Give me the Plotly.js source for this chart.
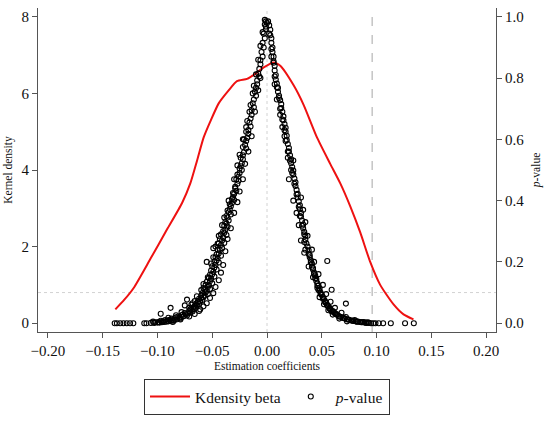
<!DOCTYPE html>
<html>
<head>
<meta charset="utf-8">
<script src="https://cdn.plot.ly/plotly-3.0.1.min.js"></script>
<style>html,body{margin:0;padding:0;background:#fff;}#chart{width:550px;height:423px;}</style>
</head>
<body>
<div id="chart"></div>
<script>
// Kernel density of beta estimates (left axis)
const kdX = [-0.1384,-0.130,-0.1217,-0.1064,-0.0912,-0.0775,-0.070,-0.0638,-0.0578,-0.0517,-0.0441,-0.035,-0.0274,-0.0182,-0.0107,-0.003,0.006,0.0121,0.0243,0.0334,0.0456,0.0577,0.0669,0.076,0.0851,0.0942,0.1033,0.1155,0.1246,0.1337];
const kdY = [0.36,0.62,0.92,1.68,2.45,3.14,3.65,4.25,4.85,5.27,5.74,6.08,6.32,6.38,6.51,6.68,6.81,6.72,6.21,5.70,4.85,4.16,3.65,3.05,2.37,1.60,1.00,0.49,0.23,0.10];

// p-values, left branch (negative coefficients)
const leftX = [-0.001,-0.002,-0.001,-0.003,-0.002,-0.004,-0.003,-0.005,-0.004,-0.006,-0.006,-0.007,-0.008,-0.007,-0.009,-0.009,-0.010,-0.011,-0.010,-0.012,-0.013,-0.012,-0.014,-0.014,-0.015,-0.016,-0.015,-0.017,-0.017,-0.018,-0.019,-0.020,-0.019,-0.021,-0.022,-0.022,-0.023,-0.024,-0.023,-0.025,-0.026,-0.026,-0.027,-0.029,-0.028,-0.030,-0.031,-0.030,-0.032,-0.033,-0.034,-0.035,-0.033,-0.036,-0.035,-0.037,-0.036,-0.038,-0.039,-0.037,-0.040,-0.041,-0.039,-0.042,-0.041,-0.043,-0.044,-0.042,-0.045,-0.046,-0.044,-0.047,-0.048,-0.046,-0.049,-0.050,-0.048,-0.051,-0.052,-0.050,-0.053,-0.054,-0.052,-0.055,-0.056,-0.054,-0.057,-0.058,-0.060,-0.059,-0.061,-0.063,-0.062,-0.064,-0.066,-0.065,-0.067,-0.069,-0.068,-0.070,-0.072,-0.074,-0.073,-0.076,-0.078,-0.080,-0.079,-0.082,-0.084,-0.086,-0.085,-0.088,-0.090,-0.092,-0.094,-0.096,-0.098,-0.100,-0.103,-0.106,-0.110,-0.112,-0.122,-0.125,-0.128,-0.131,-0.134,-0.137,-0.139,
  -0.004,-0.006,-0.008,-0.010,-0.012,-0.013,-0.015,-0.016,-0.018,-0.019,-0.021,-0.022,-0.024,-0.025,-0.027,-0.028,-0.029,-0.031,-0.032,-0.034,-0.036,-0.037,-0.038,-0.039,-0.040,-0.042,-0.043,-0.044,-0.045,-0.046,-0.047,-0.048,-0.050,-0.051,-0.052,-0.053,-0.055,-0.056,-0.057,-0.059,-0.060,-0.062,-0.063,-0.065,-0.067,-0.070,-0.071,-0.075,-0.077,-0.081,-0.083,-0.087,-0.089,-0.091,-0.095,-0.099,-0.102,
  -0.002,0.000,-0.001,-0.006,-0.008,-0.011,-0.019,-0.014,-0.022,-0.017,-0.025,-0.020,-0.027,-0.022,-0.030,-0.025,
  -0.027,-0.035,-0.030,-0.039,-0.033,-0.041,-0.036,-0.044,-0.038,-0.047,-0.040,-0.049,-0.042,-0.051,-0.044,-0.054,-0.047,-0.058,-0.049,-0.060,-0.052,-0.064,-0.055,-0.066,-0.058,-0.069,-0.062,-0.071,-0.066,-0.078,-0.071,-0.083,-0.079,-0.090,-0.086,-0.093,-0.097,-0.104,
  -0.049,-0.055,-0.088,-0.097,-0.073,-0.061,-0.068,-0.075,-0.058,-0.045];
const leftP = [0.985,0.975,0.960,0.945,0.930,0.915,0.900,0.885,0.870,0.858,0.845,0.830,0.815,0.805,0.792,0.780,0.768,0.755,0.742,0.730,0.718,0.705,0.695,0.680,0.668,0.655,0.642,0.630,0.618,0.605,0.595,0.582,0.570,0.558,0.548,0.535,0.522,0.512,0.500,0.490,0.478,0.465,0.455,0.445,0.432,0.422,0.412,0.402,0.392,0.382,0.372,0.362,0.355,0.345,0.335,0.325,0.315,0.305,0.295,0.288,0.280,0.270,0.262,0.255,0.245,0.238,0.228,0.220,0.212,0.205,0.198,0.190,0.182,0.175,0.168,0.160,0.152,0.145,0.138,0.130,0.124,0.118,0.112,0.106,0.100,0.095,0.090,0.085,0.082,0.076,0.071,0.068,0.063,0.058,0.055,0.050,0.046,0.043,0.038,0.035,0.032,0.029,0.025,0.023,0.020,0.018,0.015,0.013,0.012,0.010,0.008,0.007,0.006,0.005,0.004,0.003,0.002,0.002,0.001,0.001,0.000,0.000,0.000,0.000,0.000,0.000,0.000,0.000,0.000,
  0.950,0.905,0.860,0.812,0.775,0.750,0.712,0.690,0.660,0.625,0.600,0.575,0.540,0.505,0.485,0.470,0.440,0.425,0.405,0.388,0.368,0.350,0.330,0.318,0.300,0.290,0.275,0.260,0.240,0.225,0.215,0.200,0.186,0.172,0.158,0.148,0.135,0.125,0.110,0.098,0.090,0.080,0.072,0.062,0.052,0.045,0.040,0.033,0.028,0.022,0.019,0.015,0.011,0.009,0.006,0.004,0.003,
  0.990,0.980,0.968,0.800,0.760,0.690,0.640,0.610,0.600,0.560,0.550,0.520,0.515,0.470,0.470,0.430,
  0.395,0.400,0.360,0.345,0.310,0.320,0.275,0.285,0.235,0.250,0.190,0.215,0.165,0.195,0.140,0.150,0.118,0.128,0.098,0.108,0.082,0.088,0.065,0.072,0.055,0.060,0.040,0.050,0.030,0.036,0.022,0.026,0.012,0.018,0.004,0.010,0.008,0.005,
  0.245,0.200,0.050,0.031,0.077,0.045,0.065,0.058,0.115,0.260];

// p-values, right branch (positive coefficients)
const rightX = [0.001,0.002,0.003,0.002,0.004,0.004,0.005,0.005,0.006,0.006,0.007,0.007,0.008,0.008,0.009,0.010,0.010,0.011,0.012,0.013,0.013,0.014,0.015,0.015,0.016,0.017,0.017,0.018,0.018,0.019,0.020,0.020,0.021,0.022,0.022,0.023,0.024,0.024,0.025,0.026,0.026,0.027,0.028,0.028,0.029,0.030,0.030,0.031,0.031,0.032,0.033,0.033,0.034,0.035,0.035,0.036,0.037,0.038,0.038,0.039,0.040,0.041,0.041,0.042,0.043,0.044,0.044,0.045,0.046,0.047,0.048,0.048,0.049,0.050,0.051,0.052,0.053,0.054,0.055,0.056,0.057,0.058,0.060,0.061,0.062,0.064,0.065,0.067,0.069,0.071,0.073,0.075,0.077,0.079,0.081,0.083,0.085,0.087,0.089,0.091,0.093,0.095,0.097,0.099,0.102,0.106,0.113,0.126,0.134,
  0.003,0.004,0.006,0.007,0.009,0.011,0.012,0.014,0.016,0.017,0.019,0.021,0.023,0.025,0.027,0.029,0.030,0.032,0.034,0.034,0.035,0.039,0.040,0.042,0.043,0.045,0.046,0.047,0.049,0.051,0.053,0.055,0.057,0.059,0.063,0.066,0.070,0.074,0.078,0.082,0.086,0.090,
  0.004,0.007,0.009,0.012,0.014,0.016,0.019,0.022,0.020,
  0.024,0.031,0.027,0.033,0.029,0.035,0.031,0.037,0.034,0.041,0.038,0.043,0.042,0.047,0.046,0.051,0.048,0.054,0.052,0.058,0.056,0.062,0.060,0.068,0.066,0.072,0.073,0.080,0.088,0.092,
  0.024,0.055,0.059,0.072];
const rightP = [0.985,0.972,0.958,0.945,0.930,0.915,0.900,0.885,0.870,0.855,0.840,0.825,0.810,0.795,0.782,0.768,0.755,0.742,0.728,0.715,0.702,0.690,0.675,0.662,0.650,0.638,0.625,0.612,0.598,0.585,0.572,0.560,0.548,0.535,0.522,0.510,0.498,0.485,0.472,0.460,0.448,0.435,0.422,0.410,0.398,0.385,0.372,0.360,0.348,0.335,0.322,0.310,0.298,0.285,0.272,0.260,0.250,0.238,0.226,0.215,0.205,0.195,0.184,0.175,0.165,0.156,0.147,0.138,0.130,0.122,0.114,0.106,0.099,0.092,0.085,0.078,0.072,0.066,0.060,0.055,0.050,0.045,0.040,0.036,0.032,0.028,0.024,0.021,0.018,0.015,0.013,0.011,0.009,0.007,0.006,0.005,0.004,0.003,0.002,0.001,0.001,0.000,0.000,0.000,0.000,0.000,0.000,0.000,0.000,
  0.940,0.895,0.850,0.805,0.770,0.735,0.700,0.665,0.630,0.595,0.560,0.530,0.490,0.455,0.420,0.380,0.350,0.318,0.290,0.265,0.240,0.222,0.198,0.180,0.160,0.145,0.122,0.108,0.095,0.080,0.068,0.057,0.047,0.038,0.030,0.022,0.017,0.012,0.008,0.005,0.003,0.002,
  0.870,0.780,0.730,0.680,0.640,0.610,0.540,0.500,0.470,
  0.400,0.410,0.360,0.370,0.320,0.330,0.270,0.285,0.230,0.240,0.185,0.200,0.150,0.160,0.115,0.125,0.085,0.095,0.062,0.070,0.042,0.050,0.028,0.034,0.015,0.020,0.006,0.010,0.004,0.003,
  0.531,0.203,0.109,0.064];

const xTicks = [-0.20,-0.15,-0.10,-0.05,0.00,0.05,0.10,0.15,0.20];
const pThreshold = 0.1;
const betaLine = 0.096;

const serif = "'Times New Roman', 'Liberation Serif', serif";

const traces = [
  {x: kdX, y: kdY, type: 'scatter', mode: 'lines', name: 'Kdensity beta',
   line: {color: '#ee1111', width: 2, shape: 'spline', smoothing: 0.6}, yaxis: 'y'},
  {x: leftX.concat(rightX), y: leftP.concat(rightP), type: 'scatter', mode: 'markers', name: '<i>p</i>-value',
   marker: {symbol: 'circle-open', size: 5, color: '#000', line: {width: 1.1, color: '#000'}}, yaxis: 'y2'}
];

const layout = {
  width: 550, height: 423,
  margin: {l: 38, r: 54, t: 8, b: 85},
  paper_bgcolor: '#fff', plot_bgcolor: '#fff',
  font: {family: serif, color: '#111', size: 15},
  showlegend: true,
  legend: {orientation: 'h', x: 0.5, xanchor: 'center', y: -0.145, yanchor: 'top',
           bordercolor: '#333', borderwidth: 1, font: {family: serif, size: 15.5, color: '#111'},
           itemwidth: 40},
  xaxis: {range: [-0.209, 0.209], tickvals: xTicks, tickformat: '.2f', ticks: 'outside', ticklen: 5,
          tickcolor: '#555', showline: true, linecolor: '#555', linewidth: 1, showgrid: false, zeroline: false,
          tickfont: {family: serif, size: 15},
          title: {text: 'Estimation coefficients', font: {family: serif, size: 11.5}, standoff: 3}},
  yaxis: {range: [-0.23, 8.23], dtick: 2, tick0: 0, ticks: 'outside', ticklen: 5, tickcolor: '#555',
          showline: true, linecolor: '#555', linewidth: 1, showgrid: false, zeroline: false,
          tickfont: {family: serif, size: 15},
          title: {text: 'Kernel density', font: {family: serif, size: 11.5}, standoff: 6}},
  yaxis2: {range: [-0.02875, 1.02875], dtick: 0.2, tick0: 0, tickformat: '.1f', overlaying: 'y', side: 'right',
           ticks: 'outside', ticklen: 5, tickcolor: '#555', showline: true, linecolor: '#555', linewidth: 1,
           showgrid: false, zeroline: false, tickfont: {family: serif, size: 15},
           title: {text: '<i>p</i>-value', font: {family: serif, size: 11.5}, standoff: 8}},
  shapes: [
    {type: 'line', xref: 'x', yref: 'paper', x0: 0, x1: 0, y0: 0, y1: 1,
     line: {color: '#d2d2d2', width: 1, dash: 'dot'}, layer: 'below'},
    {type: 'line', xref: 'paper', yref: 'y2', x0: 0, x1: 1, y0: pThreshold, y1: pThreshold,
     line: {color: '#d2d2d2', width: 1, dash: 'dot'}, layer: 'below'},
    {type: 'line', xref: 'x', yref: 'paper', x0: betaLine, x1: betaLine, y0: 0, y1: 1,
     line: {color: '#c4c4c4', width: 1.5, dash: 'dash'}, layer: 'below'}
  ]
};

Plotly.newPlot('chart', traces, layout, {displayModeBar: false, staticPlot: true});
</script>
</body>
</html>
